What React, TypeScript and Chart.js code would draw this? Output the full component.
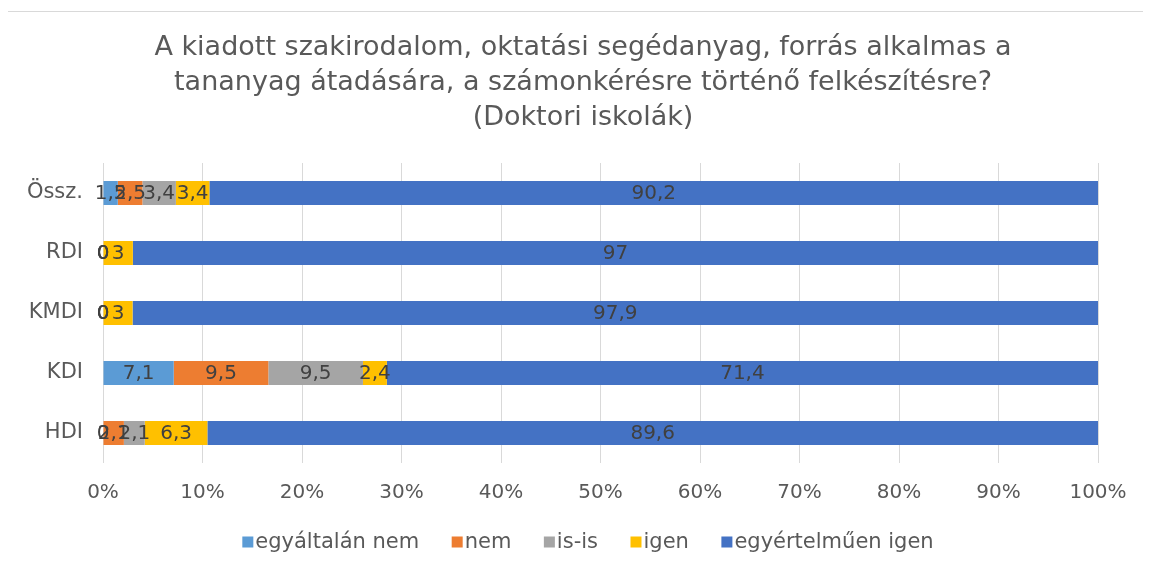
import { useEffect, useRef } from 'react';
import { Chart, registerables } from 'chart.js';

Chart.register(...registerables);

const FONT = '"DejaVu Sans", Verdana, sans-serif';

const titleLines = [
  'A kiadott szakirodalom, oktatási segédanyag, forrás alkalmas a',
  'tananyag átadására, a számonkérésre történő felkészítésre?',
  '(Doktori iskolák)',
];

const categories = ['Össz.', 'RDI', 'KMDI', 'KDI', 'HDI'];
const seriesNames = ['egyáltalán nem', 'nem', 'is-is', 'igen', 'egyértelműen igen'];
const seriesColors = ['#5B9BD5', '#ED7D31', '#A5A5A5', '#FFC000', '#4472C4'];

const egyaltalanNem = [1.5, 0, 0, 7.1, 0];
const nem = [2.5, 0, 0, 9.5, 2.1];
const isIs = [3.4, 0, 0, 9.5, 2.1];
const igen = [3.4, 3, 3, 2.4, 6.3];
const egyertelmuenIgen = [90.2, 97, 97.9, 71.4, 89.6];

const xTickValues = [0, 10, 20, 30, 40, 50, 60, 70, 80, 90, 100];

const rawSeries = [egyaltalanNem, nem, isIs, igen, egyertelmuenIgen];

const fmt = (v: number) => String(v).replace('.', ',');

const rowSums = categories.map((_, j) => rawSeries.reduce((s, arr) => s + arr[j], 0));

const titlePlugin = {
  id: 'customTitle',
  afterDraw(chart: any) {
    const ctx = chart.ctx;
    ctx.save();
    ctx.font = `27px ${FONT}`;
    ctx.fillStyle = '#595959';
    ctx.textAlign = 'center';
    ctx.textBaseline = 'middle';
    titleLines.forEach((line, i) => {
      ctx.fillText(line, 575, 36 + i * 35);
    });
    ctx.restore();
  },
};

const segLabelPlugin = {
  id: 'segLabels',
  afterDatasetsDraw(chart: any) {
    const ctx = chart.ctx;
    ctx.save();
    ctx.font = `20px ${FONT}`;
    ctx.fillStyle = '#404040';
    ctx.textAlign = 'center';
    ctx.textBaseline = 'middle';
    chart.data.datasets.forEach((_: any, i: number) => {
      const meta = chart.getDatasetMeta(i);
      meta.data.forEach((el: any, j: number) => {
        const p = el.getCenterPoint();
        ctx.fillText(fmt(rawSeries[i][j]), p.x, p.y + 1);
      });
    });
    ctx.restore();
  },
};

const legendPlugin = {
  id: 'customLegend',
  afterDraw(chart: any) {
    const ctx = chart.ctx;
    ctx.save();
    ctx.font = `21px ${FONT}`;
    ctx.textBaseline = 'middle';
    ctx.textAlign = 'left';
    const box = 11;
    const textOff = 13;
    const gap = 32.5;
    const widths = seriesNames.map((n) => textOff + ctx.measureText(n).width);
    const total = widths.reduce((a, b) => a + b, 0) + gap * (seriesNames.length - 1);
    let x = 580 - total / 2;
    const y = chart.chartArea.bottom + 79;
    seriesNames.forEach((n, i) => {
      ctx.fillStyle = seriesColors[i];
      ctx.fillRect(x, y - box / 2, box, box);
      ctx.fillStyle = '#595959';
      ctx.fillText(n, x + textOff, y + 1);
      x += widths[i] + gap;
    });
    ctx.restore();
  },
};

export default function App() {
  const ref = useRef<HTMLCanvasElement | null>(null);

  useEffect(() => {
    if (!ref.current) return;
    const chart = new Chart(ref.current, {
      type: 'bar',
      data: {
        labels: categories,
        datasets: rawSeries.map((arr, i) => ({
          label: seriesNames[i],
          data: arr.map((v, j) => (v / rowSums[j]) * 100),
          backgroundColor: seriesColors[i],
          borderWidth: 0,
          barPercentage: 0.4,
          categoryPercentage: 1,
        })),
      },
      options: {
        indexAxis: 'y',
        responsive: false,
        animation: false,
        devicePixelRatio: 1,
        layout: { padding: { left: 0, right: 53, top: 151, bottom: 66 } },
        plugins: {
          legend: { display: false },
          tooltip: { enabled: false },
          title: { display: false },
        },
        scales: {
          x: {
            stacked: true,
            min: 0,
            max: 100,
            afterBuildTicks: (scale: any) => {
              scale.ticks = xTickValues.map((v) => ({ value: v }));
            },
            afterFit: (scale: any) => {
              scale.height = 42;
            },
            ticks: {
              color: '#595959',
              font: { family: FONT, size: 20 },
              padding: 18,
              maxRotation: 0,
              callback: (v: any) => `${v}%`,
            },
            grid: { color: '#d9d9d9', lineWidth: 1, drawTicks: false },
            border: { display: false },
          },
          y: {
            stacked: true,
            afterFit: (scale: any) => {
              scale.width = 95;
            },
            ticks: {
              color: '#595959',
              font: { family: FONT, size: 21 },
              padding: 20,
            },
            grid: { display: false, drawTicks: false },
            border: { display: false },
          },
        },
      },
      plugins: [segLabelPlugin, titlePlugin, legendPlugin],
    } as any);
    return () => chart.destroy();
  }, []);

  return (
    <div
      style={{
        marginLeft: -1,
        marginTop: 3,
        width: 1143,
        height: 559,
        borderTop: '1px solid #d9d9d9',
        borderLeft: '1px solid #d9d9d9',
        background: '#fff',
      }}
    >
      <canvas ref={ref} width={1143} height={559} style={{ display: 'block' }} />
    </div>
  );
}
